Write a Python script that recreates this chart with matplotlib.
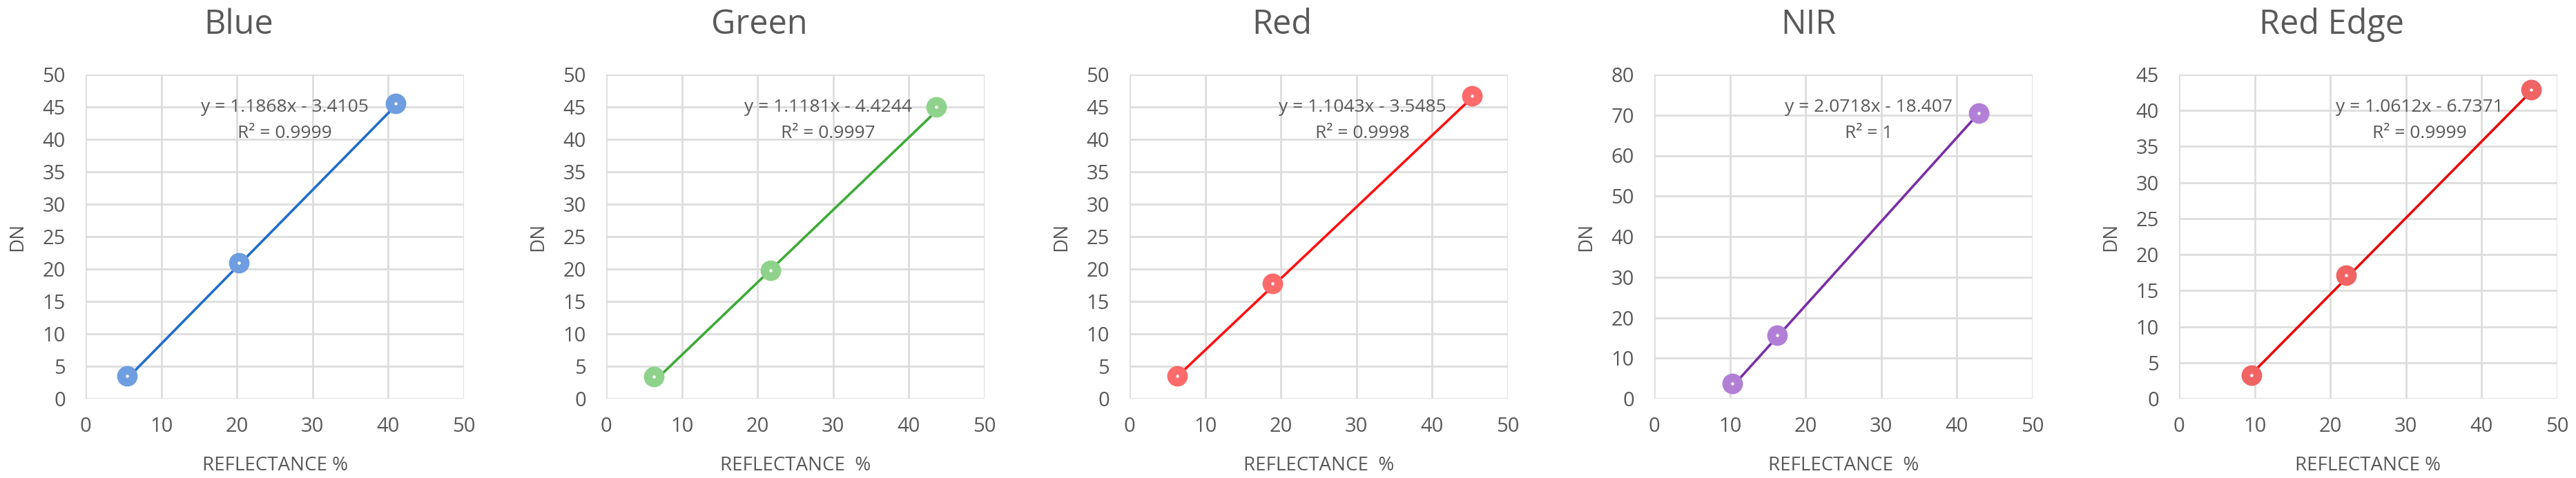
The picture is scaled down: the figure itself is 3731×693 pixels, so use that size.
import matplotlib
matplotlib.use("Agg")
import matplotlib.pyplot as plt
import numpy as np

plt.rcParams['font.family'] = ['Open Sans', 'DejaVu Sans']

# ---- data ----
bands = ["Blue", "Green", "Red", "NIR", "Red Edge"]
reflectance_blue = [5.5, 20.3, 41.0]
dn_blue = [3.5, 21.0, 45.5]
reflectance_green = [6.3, 21.7, 43.6]
dn_green = [3.4, 19.8, 45.0]
reflectance_red = [6.3, 18.9, 45.3]
dn_red = [3.5, 17.8, 46.7]
reflectance_nir = [10.3, 16.2, 42.9]
dn_nir = [3.8, 15.6, 70.5]
reflectance_rededge = [9.6, 22.1, 46.5]
dn_rededge = [3.3, 17.1, 42.9]

slopes = [1.1868, 1.1181, 1.1043, 2.0718, 1.0612]
intercepts = [-3.4105, -4.4244, -3.5485, -18.407, -6.7371]
slope_labels = ["1.1868", "1.1181", "1.1043", "2.0718", "1.0612"]
intercept_labels = ["3.4105", "4.4244", "3.5485", "18.407", "6.7371"]
r2_labels = ["0.9999", "0.9997", "0.9998", "1", "0.9999"]
xlabels = ["REFLECTANCE %", "REFLECTANCE  %", "REFLECTANCE  %", "REFLECTANCE  %", "REFLECTANCE %"]
x_ticks = [0, 10, 20, 30, 40, 50]
y_maxes = [50, 50, 50, 80, 45]
y_steps = [5, 5, 5, 10, 5]

xs = [reflectance_blue, reflectance_green, reflectance_red, reflectance_nir, reflectance_rededge]
ys = [dn_blue, dn_green, dn_red, dn_nir, dn_rededge]

# ---- styles / layout ----
line_colors = ["#1F6DCB", "#3CAB36", "#FF1010", "#7A2EA6", "#E80A0A"]
marker_colors = ["#6E9EE0", "#8FD28B", "#FF6B6B", "#B27FD6", "#F06464"]
axes_left_px = [124, 878, 1636, 2396, 3156]
axes_width_px = 548
axes_top_px = 108
axes_bottom_px = 578
title_x_px = [346, 1100, 1857, 2619, 3377]
eq_xfrac = [0.526, 0.586, 0.615, 0.567, 0.635]

W, H = 3731, 693
fig = plt.figure(figsize=(W / 100, H / 100), dpi=100)
fig.patch.set_facecolor("white")
text_color = "#595959"
grid_color = "#DDDDDD"

for i in range(5):
    ax = fig.add_axes([axes_left_px[i] / W, (H - axes_bottom_px) / H,
                       axes_width_px / W, (axes_bottom_px - axes_top_px) / H])
    ax.set_xlim(0, 50)
    ax.set_ylim(0, y_maxes[i])
    ax.set_xticks(x_ticks)
    ax.set_yticks(np.arange(0, y_maxes[i] + 0.1, y_steps[i]))
    ax.grid(True, color=grid_color, linewidth=2.0)
    ax.set_axisbelow(True)
    for s in ax.spines.values():
        s.set_visible(False)
    ax.tick_params(length=0, labelsize=21, labelcolor=text_color)
    ax.tick_params(axis="x", pad=19)
    ax.tick_params(axis="y", pad=21)

    x = np.array(xs[i])
    y = np.array(ys[i])
    xf = np.array([x.min(), x.max()])
    ax.plot(xf, slopes[i] * xf + intercepts[i], color=line_colors[i], linewidth=2.6, zorder=3,
            solid_capstyle="butt")
    ax.plot(x, y, linestyle="none", marker="o", markersize=12.5, markerfacecolor="white",
            markeredgecolor=marker_colors[i], markeredgewidth=9, zorder=4)

    ax.text(eq_xfrac[i], 0.90, f"y = {slope_labels[i]}x - {intercept_labels[i]}",
            transform=ax.transAxes, ha="center", va="center", fontsize=19, color=text_color, zorder=5)
    ax.text(eq_xfrac[i], 0.819, f"R² = {r2_labels[i]}",
            transform=ax.transAxes, ha="center", va="center", fontsize=19, color=text_color, zorder=5)

    ax.set_xlabel(xlabels[i], fontsize=20, color=text_color, labelpad=20)
    ax.set_ylabel("DN", fontsize=20, color=text_color, labelpad=16)

    fig.text(title_x_px[i] / W, 1 - 36 / H, bands[i], ha="center", va="center",
             fontsize=35, color=text_color)

fig.savefig("out.png", dpi=100, facecolor="white")
